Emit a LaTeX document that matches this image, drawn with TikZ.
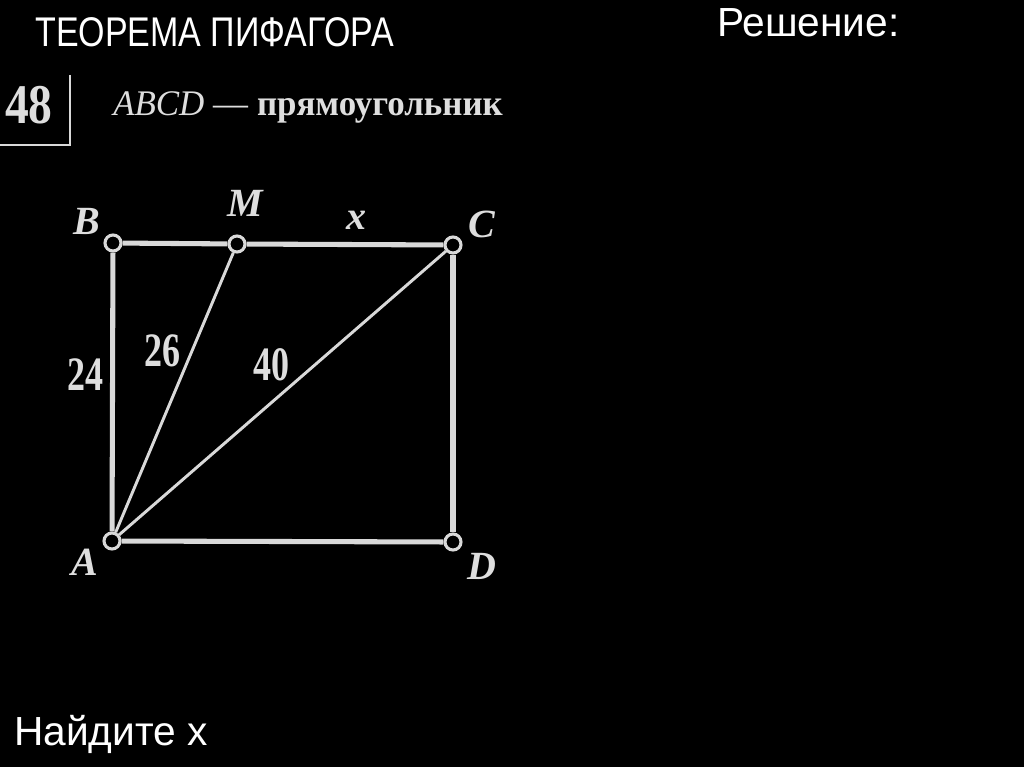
\documentclass[tikz,border=0pt]{standalone}
\usepackage{xcolor}
\usepackage{tikz}
\usepackage{fontspec}
\setmainfont{Liberation Serif}
\newfontfamily\headfont{Liberation Sans}
\definecolor{linegray}{HTML}{D9D9D9}
\definecolor{textgray}{HTML}{DEDEDE}
\tikzstyle{heading} = [text=white, anchor=base west, yscale=1.22, font=\headfont\fontsize{25.5pt}{30pt}\selectfont]
\tikzstyle{bigheading} = [text=white, anchor=base west, font=\headfont\fontsize{30.5pt}{36pt}\selectfont]
\tikzstyle{caption} = [text=textgray, anchor=base west, xscale=0.97, font=\fontsize{27pt}{32pt}\selectfont]
\tikzstyle{numbox} = [text=textgray, anchor=base, xscale=0.85, font=\bfseries\fontsize{42pt}{48pt}\selectfont]
\tikzstyle{letter} = [text=textgray, font=\bfseries\itshape\fontsize{30pt}{36pt}\selectfont]
\tikzstyle{length} = [text=textgray, xscale=0.75, font=\bfseries\fontsize{36pt}{40pt}\selectfont]
\tikzstyle{vertex} = [circle, draw=linegray, fill=black, line width=2.3pt, minimum size=12pt]
\tikzstyle{side} = [draw=linegray, line width=3.8pt]
\tikzstyle{diag} = [draw=linegray, line width=2.2pt]
\tikzstyle{frame} = [draw=linegray, line width=1.5pt]

\begin{document}
\begin{tikzpicture}[x=0.75pt, y=-0.75pt]
\tikzstyle{every node}=[inner sep=0pt]
\useasboundingbox (0,0) rectangle (1024,767);
\fill[black] (0,0) rectangle (1024,767);

% headings
\node (title) [heading] at (35,47) {ТЕОРЕМА ПИФАГОРА};
\node (solution) [bigheading] at (717,37) {Решение:};
\node (task) [bigheading] at (14,745) {Найдите х};

% problem number and statement
\node (num) [numbox] at (29,123) {48};
\draw[frame] (70,75) -- (70,145) -- (0,145);
\node (statement) [caption] at (113,115) {\textit{ABCD} --- \textbf{прямоугольник}};

% vertices
\node (A) [vertex] at (112,541) {};
\node (B) [vertex] at (113,243) {};
\node (M) [vertex] at (237,244) {};
\node (C) [vertex] at (453,245) {};
\node (D) [vertex] at (453,542) {};

\node (lbl_A) [letter] at (85,562) {A};
\node (lbl_B) [letter] at (87,221) {B};
\node (lbl_M) [letter] at (245,203) {M};
\node (lbl_C) [letter] at (482,224) {C};
\node (lbl_D) [letter] at (482,566) {D};
\node (lbl_x) [letter] at (356,220) {x};

\node (len_AB) [length] at (85,375) {24};
\node (len_AM) [length] at (162,351) {26};
\node (len_AC) [length] at (271,365) {40};

% sides
\draw[side] (B) -- (M);
\draw[side] (M) -- (C);
\draw[side] (C) -- (D);
\draw[side] (D) -- (A);
\draw[side] (A) -- (B);

% segments from A
\draw[diag] (A) -- (M);
\draw[diag] (A) -- (C);
\end{tikzpicture}
\end{document}
